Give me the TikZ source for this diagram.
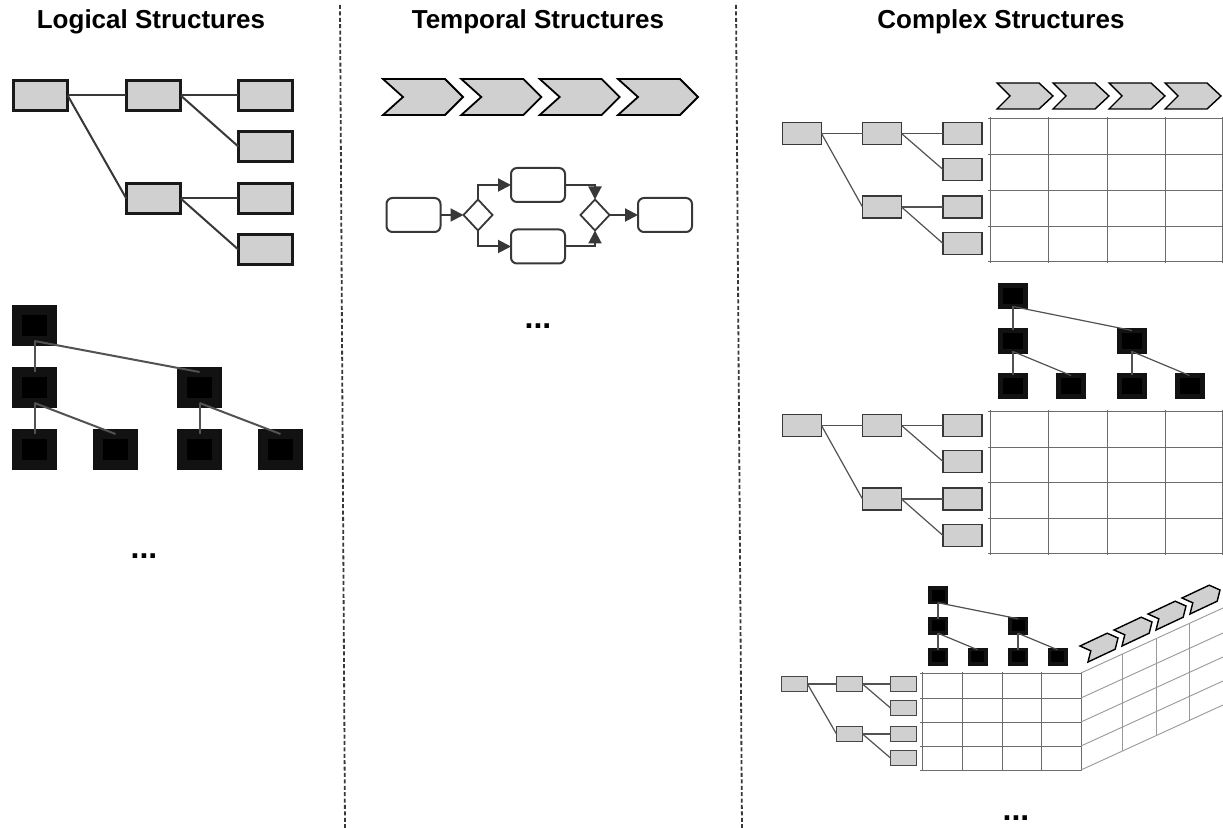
\documentclass[tikz,border=0pt]{standalone}
\usepackage{fontspec}
\setmainfont{Liberation Sans}
\usetikzlibrary{arrows.meta,positioning,shapes.geometric}
\definecolor{boxgrey}{HTML}{D0D0D0}
\definecolor{linegrey}{HTML}{383838}
\definecolor{gridgrey}{HTML}{6C6C6C}

\begin{document}
\begin{tikzpicture}[x=0.5pt, y=-0.5pt,
      title/.style={font=\bfseries\fontsize{13}{15}\selectfont, anchor=base},
      dots/.style={font=\bfseries\fontsize{16}{18}\selectfont, anchor=base},
      sep/.style={draw=linegrey, line width=.9pt, dash pattern=on 2pt off 1.2pt},
      gbox/.style={draw=black!90, line width=1.3pt, fill=boxgrey, inner sep=0pt,
        outer sep=0pt, minimum width=27.2pt, minimum height=15.2pt},
      gboxs/.style={gbox, draw=black!78, line width=.8pt,
        minimum width=19.5pt, minimum height=11pt},
      gboxt/.style={gbox, draw=black!72, line width=.6pt,
        minimum width=13pt, minimum height=7.5pt},
      blk/.style={draw=black!93, fill=black, line width=5pt, inner sep=0pt,
        outer sep=0pt, minimum width=17.5pt, minimum height=15.5pt},
      blkm/.style={blk, line width=2.5pt, minimum width=12.5pt, minimum height=10.5pt},
      blks/.style={blk, line width=1.75pt, minimum width=8.25pt, minimum height=7.25pt},
      proc/.style={draw=linegrey, line width=1pt, rounded corners=3pt, fill=white,
        inner sep=0pt, outer sep=0pt, minimum width=27pt, minimum height=17pt},
      gate/.style={diamond, draw=linegrey, line width=.9pt, fill=white, inner sep=0pt,
        outer sep=0pt, minimum width=14.5pt, minimum height=15.5pt},
      link/.style={draw=linegrey, line width=1pt},
      thin/.style={draw=black!68, line width=.6pt},
      blink/.style={draw=black!68, line width=1pt},
      arrow/.style={-{Triangle[length=6.5pt, width=6.5pt]}, line width=1pt, draw=linegrey},
      chev/.style={draw=black, line width=.9pt, fill=boxgrey, line join=miter},
      chevs/.style={chev, line width=.7pt},
      grid/.style={draw=gridgrey, line width=.45pt},
      side/.style={draw=black!40, line width=.45pt}
    ]
      \useasboundingbox[fill=white] (0,0) rectangle (1223,828);

      % column titles and separators
      \node[title] (tlog) at (151,29) {Logical Structures};
      \node[title] (ttem) at (538,29) {Temporal Structures};
      \node[title] (tcom) at (1001,29) {Complex Structures};
      \draw[sep] (340,5) -- (345,828);
      \draw[sep] (736,5) -- (742,828);

      % logical: grey hierarchy
      \node[gbox] (lg1) at (40.5,95.5) {};
      \node[gbox] (lg2) at (153.5,95.5) {};
      \node[gbox] (lg3) at (265.5,95.5) {};
      \node[gbox] (lg4) at (265.5,146.5) {};
      \node[gbox] (lg5) at (153.5,198.5) {};
      \node[gbox] (lg6) at (265.5,198.5) {};
      \node[gbox] (lg7) at (265.5,249.5) {};
      \draw[link] (lg1.east) -- (lg2.west);
      \draw[link] (lg1.east) -- (lg5.west);
      \draw[link] (lg2.east) -- (lg3.west);
      \draw[link] (lg2.east) -- (lg4.west);
      \draw[link] (lg5.east) -- (lg6.west);
      \draw[link] (lg5.east) -- (lg7.west);

      % logical: black tree
      \node[blk] (lb1) at (34.5,325.5) {};
      \node[blk] (lb2) at (34.5,387.5) {};
      \node[blk] (lb3) at (199.5,387.5) {};
      \node[blk] (lb4) at (34.5,449.5) {};
      \node[blk] (lb5) at (115.5,449.5) {};
      \node[blk] (lb6) at (199.5,449.5) {};
      \node[blk] (lb7) at (280.5,449.5) {};
      \draw[blink] (lb1.south) -- (lb2.north);
      \draw[blink] (lb1.south) -- (lb3.north);
      \draw[blink] (lb2.south) -- (lb4.north);
      \draw[blink] (lb2.south) -- (lb5.north);
      \draw[blink] (lb3.south) -- (lb6.north);
      \draw[blink] (lb3.south) -- (lb7.north);
      \node[dots] (ldots) at (144,559) {...};

      % temporal: value chain
      \foreach \x in {383,461.3,539.7,618}
        \draw[chev] (\x,79) -- ++(62,0) -- ++(18,18) -- ++(-18,18) -- ++(-62,0) -- ++(20,-18) -- cycle;

      % temporal: process with split and join
      \node[proc] (start) at (413.5,215) {};
      \node[gate] (split) at (478,215) {};
      \node[proc] (upper) at (538,185) {};
      \node[proc] (lower) at (538,246.5) {};
      \node[gate] (join) at (595,215) {};
      \node[proc] (finish) at (665,215) {};
      \draw[arrow] (start) -- (split);
      \draw[arrow] (split.north) |- (upper.west);
      \draw[arrow] (split.south) |- (lower.west);
      \draw[arrow] (upper.east) -| (join.north);
      \draw[arrow] (lower.east) -| (join.south);
      \draw[arrow] (join) -- (finish);
      \node[dots] (tdots) at (538,329) {...};

      % complex 1: hierarchy x process
      \foreach \x in {997,1053,1109,1165}
        \draw[chevs] (\x,83) -- ++(42,0) -- ++(14,13) -- ++(-14,13) -- ++(-42,0) -- ++(13,-13) -- cycle;
      \foreach \y in {118,154,190,226,261}
        \draw[grid] (988,\y) -- (1223,\y);
      \foreach \x in {990,1048,1107,1165,1222}
        \draw[grid] (\x,117) -- (\x,263);
      \node[gboxs] (ca1) at (802,133.5) {};
      \node[gboxs] (ca2) at (882,133.5) {};
      \node[gboxs] (ca3) at (962.5,133.5) {};
      \node[gboxs] (ca4) at (962.5,169.5) {};
      \node[gboxs] (ca5) at (882,207) {};
      \node[gboxs] (ca6) at (962.5,207) {};
      \node[gboxs] (ca7) at (962.5,243.5) {};
      \draw[thin] (ca1.east) -- (ca2.west);
      \draw[thin] (ca1.east) -- (ca5.west);
      \draw[thin] (ca2.east) -- (ca3.west);
      \draw[thin] (ca2.east) -- (ca4.west);
      \draw[thin] (ca5.east) -- (ca6.west);
      \draw[thin] (ca5.east) -- (ca7.west);

      % complex 2: hierarchy x hierarchy
      \node[blkm] (ck1) at (1013,296) {};
      \node[blkm] (ck2) at (1013,341) {};
      \node[blkm] (ck3) at (1132,341) {};
      \node[blkm] (ck4) at (1013,386) {};
      \node[blkm] (ck5) at (1071,386) {};
      \node[blkm] (ck6) at (1132,386) {};
      \node[blkm] (ck7) at (1189.5,386) {};
      \draw[thin] (ck1.south) -- (ck2.north);
      \draw[thin] (ck1.south) -- (ck3.north);
      \draw[thin] (ck2.south) -- (ck4.north);
      \draw[thin] (ck2.south) -- (ck5.north);
      \draw[thin] (ck3.south) -- (ck6.north);
      \draw[thin] (ck3.south) -- (ck7.north);
      \foreach \y in {411,447,482,518,553}
        \draw[grid] (988,\y) -- (1223,\y);
      \foreach \x in {990,1048,1107,1165,1222}
        \draw[grid] (\x,410) -- (\x,555);
      \node[gboxs] (cb1) at (802,425.5) {};
      \node[gboxs] (cb2) at (882,425.5) {};
      \node[gboxs] (cb3) at (962.5,425.5) {};
      \node[gboxs] (cb4) at (962.5,461.5) {};
      \node[gboxs] (cb5) at (882,499) {};
      \node[gboxs] (cb6) at (962.5,499) {};
      \node[gboxs] (cb7) at (962.5,535.5) {};
      \draw[thin] (cb1.east) -- (cb2.west);
      \draw[thin] (cb1.east) -- (cb5.west);
      \draw[thin] (cb2.east) -- (cb3.west);
      \draw[thin] (cb2.east) -- (cb4.west);
      \draw[thin] (cb5.east) -- (cb6.west);
      \draw[thin] (cb5.east) -- (cb7.west);

      % complex 3: hierarchy x hierarchy x process
      \node[blks] (cm1) at (938,595.5) {};
      \node[blks] (cm2) at (938,626) {};
      \node[blks] (cm3) at (1018,626) {};
      \node[blks] (cm4) at (938,657) {};
      \node[blks] (cm5) at (977.5,657) {};
      \node[blks] (cm6) at (1018,657) {};
      \node[blks] (cm7) at (1057.5,657) {};
      \draw[thin] (cm1.south) -- (cm2.north);
      \draw[thin] (cm1.south) -- (cm3.north);
      \draw[thin] (cm2.south) -- (cm4.north);
      \draw[thin] (cm2.south) -- (cm5.north);
      \draw[thin] (cm3.south) -- (cm6.north);
      \draw[thin] (cm3.south) -- (cm7.north);
      \foreach \y in {673,698,722,746,770}
        \draw[grid] (920,\y) -- (1081,\y);
      \foreach \x in {922,962,1002,1041,1081}
        \draw[grid] (\x,672) -- (\x,771);
      \foreach \y in {673,698,722,746,770}
        \draw[side] (1081,\y) -- (1223,\y-65);
      \foreach \x in {1122,1156,1189}
        \draw[side] (\x,{673-0.458*(\x-1081)}) -- (\x,{770-0.458*(\x-1081)});
      \foreach \k in {0,1,2,3}
        \draw[chevs] ({1080+34*\k},{646-16*\k}) -- ++(27.2,-12.8) -- ++(10.8,4.8)
          -- ++(-2.8,11.2) -- ++(-27.2,12.8) -- ++(2.8,-11.2) -- cycle;
      \node[gboxt] (cc1) at (794.5,684) {};
      \node[gboxt] (cc2) at (849.5,684) {};
      \node[gboxt] (cc3) at (903.5,684) {};
      \node[gboxt] (cc4) at (903.5,708) {};
      \node[gboxt] (cc5) at (849.5,734) {};
      \node[gboxt] (cc6) at (903.5,734) {};
      \node[gboxt] (cc7) at (903.5,758) {};
      \draw[thin] (cc1.east) -- (cc2.west);
      \draw[thin] (cc1.east) -- (cc5.west);
      \draw[thin] (cc2.east) -- (cc3.west);
      \draw[thin] (cc2.east) -- (cc4.west);
      \draw[thin] (cc5.east) -- (cc6.west);
      \draw[thin] (cc5.east) -- (cc7.west);
      \node[dots] (cdots) at (1016,821) {...};
    \end{tikzpicture}
\end{document}
